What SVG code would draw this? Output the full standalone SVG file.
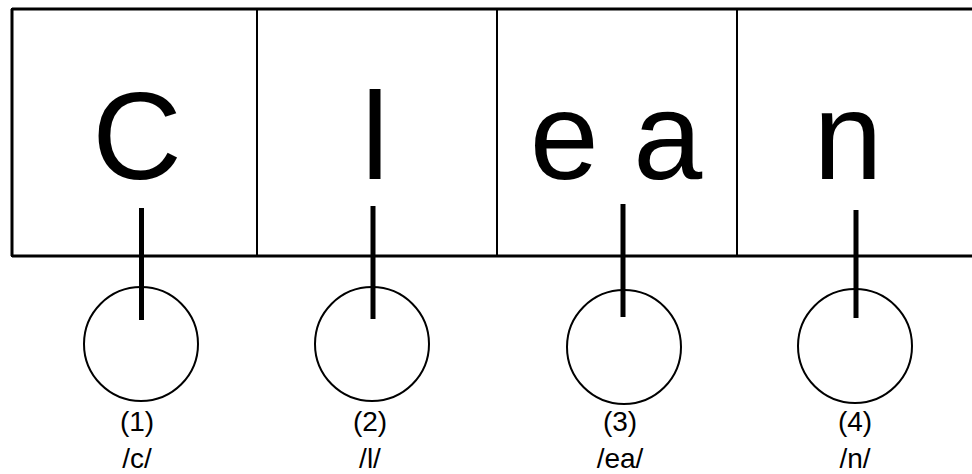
<svg xmlns="http://www.w3.org/2000/svg" width="972" height="474" viewBox="0 0 972 474">
<style>
.box{fill:#fff;stroke:#000;stroke-width:2}
.big{font-family:"Liberation Sans",Arial,sans-serif;font-size:124px;fill:#000;text-anchor:middle}
.lbl{font-family:"Liberation Sans",Arial,sans-serif;font-size:28px;fill:#000;text-anchor:middle}
.circ{fill:none;stroke:#000;stroke-width:2}
.conn{stroke:#000;stroke-width:5;fill:none}
</style>
<rect width="972" height="474" fill="#fff"/>
<g id="box-c"><rect class="box" x="12" y="9" width="245" height="247"/><text class="big" x="137" y="179">C</text></g>
<g id="box-l"><rect class="box" x="257" y="9" width="240" height="247"/><text class="big" x="375" y="179">l</text></g>
<g id="box-ea"><rect class="box" x="497" y="9" width="240" height="247"/><text class="big" x="616" y="179" xml:space="preserve">e a</text></g>
<g id="box-n"><rect class="box" x="737" y="9" width="240" height="247"/><text class="big" x="848" y="179">n</text></g>
<path d="M12 9 H972 M12 256 H972 M12 9 V256" stroke="#000" stroke-width="3" fill="none"/>
<g id="node-1"><circle class="circ" cx="141" cy="344" r="57"/><text class="lbl" x="137" y="431">(1)</text><text class="lbl" x="137" y="468">/c/</text></g>
<g id="node-2"><circle class="circ" cx="372" cy="344" r="57"/><text class="lbl" x="370" y="431">(2)</text><text class="lbl" x="370" y="468">/l/</text></g>
<g id="node-3"><circle class="circ" cx="624" cy="347" r="57"/><text class="lbl" x="620" y="431">(3)</text><text class="lbl" x="620" y="468">/ea/</text></g>
<g id="node-4"><circle class="circ" cx="855" cy="346" r="57"/><text class="lbl" x="855" y="431">(4)</text><text class="lbl" x="855" y="468">/n/</text></g>
<g id="connectors">
<line class="conn" x1="141.5" y1="208" x2="141.5" y2="320"/>
<line class="conn" x1="373" y1="206" x2="373" y2="319"/>
<line class="conn" x1="623" y1="204" x2="623" y2="317"/>
<line class="conn" x1="856" y1="210" x2="856" y2="318"/>
</g>
</svg>
